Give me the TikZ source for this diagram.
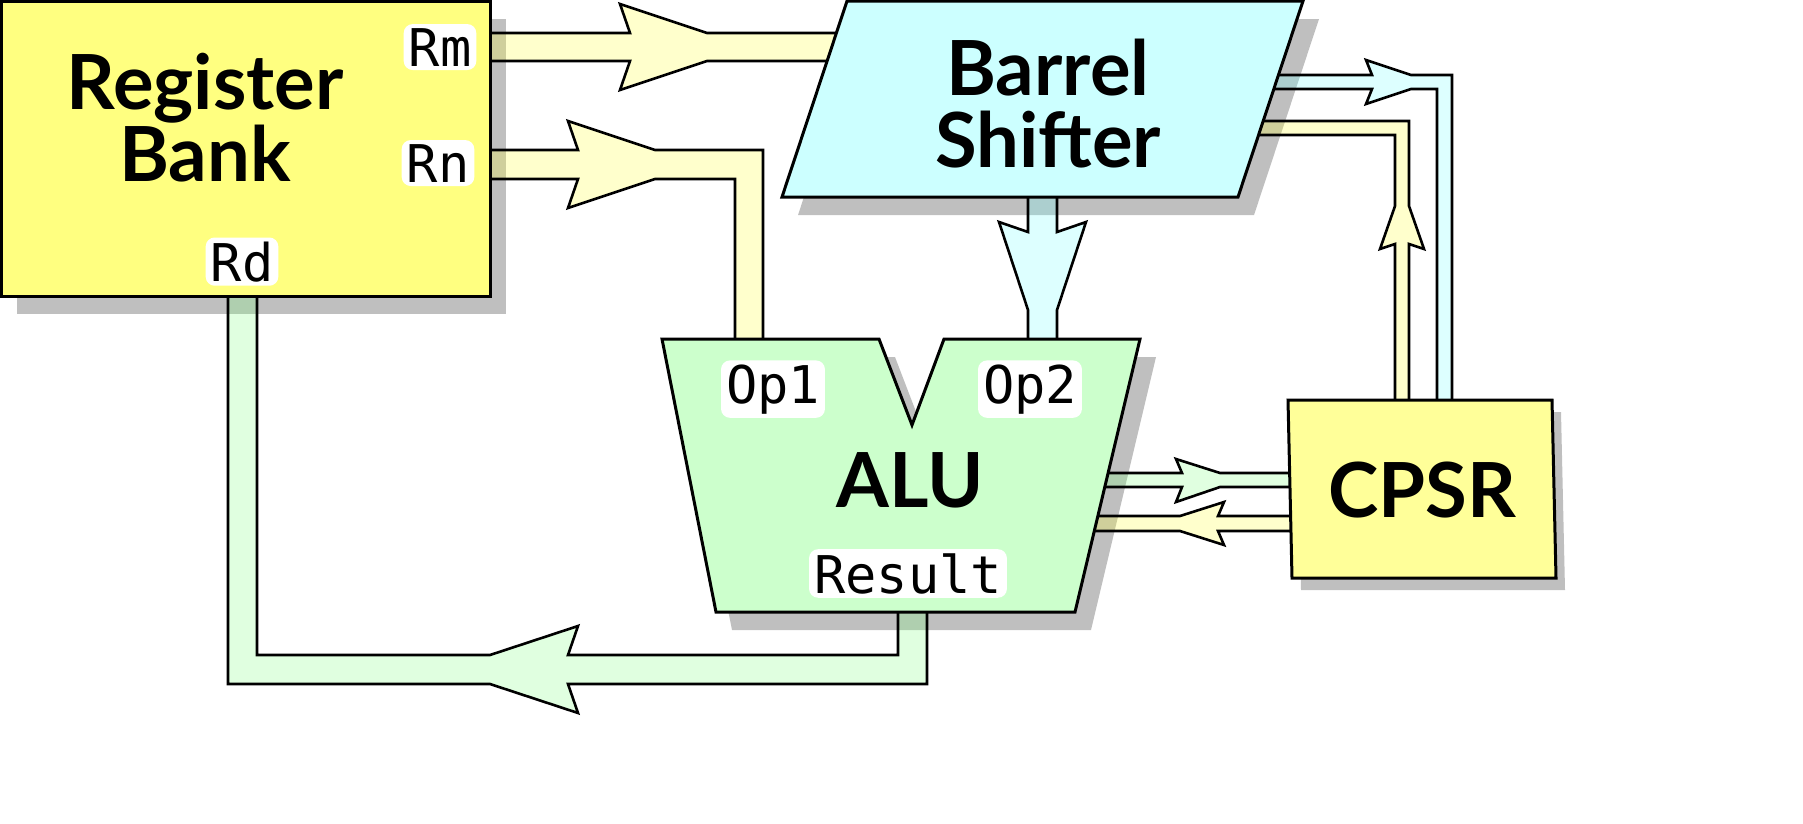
\documentclass[tikz,border=0pt]{standalone}
\usepackage{fontspec}
\setsansfont{Lato}
\setmonofont{DejaVu Sans Mono}
\usetikzlibrary{positioning}

\definecolor{regyellow}{HTML}{FFFF80}
\definecolor{cpsryellow}{HTML}{FFFF99}
\definecolor{shiftcyan}{HTML}{CCFFFF}
\definecolor{alugreen}{HTML}{CCFFCC}
\definecolor{shade}{HTML}{BFBFBF}
\definecolor{busyellow}{HTML}{FFFF33}
\definecolor{buscyan}{HTML}{77FFFF}
\definecolor{busgreen}{HTML}{83FF83}

\begin{document}
\begin{tikzpicture}[x=1pt,y=-1pt]
  \tikzset{shadow/.style = {fill=shade,draw=none}}
  \tikzset{unit/.style = {draw,line width=3pt,line join=miter}}
  \tikzset{bus/.style = {draw,line width=2.6pt,line join=miter,fill opacity=0.25}}
  \tikzset{title/.style = {font=\sffamily\bfseries\fontsize{76}{72}\selectfont,align=center,inner sep=0pt}}
  \tikzset{port/.style = {font=\ttfamily\fontsize{52}{52}\selectfont,fill=white,rounded corners=9pt,
      inner xsep=5pt,inner ysep=4pt,anchor=base}}

  \useasboundingbox (0,0) rectangle (1803,823);

  % shadows
  \fill[shadow] (17,19) rectangle (506,314);
  \fill[shadow] (863,19) -- (1319,19) -- (1254,215) -- (798,215) -- cycle;
  \fill[shadow] (678,357) -- (895,357) -- (928,443) -- (960,357) -- (1156,357) -- (1091,630) -- (732,630) -- cycle;
  \fill[shadow] (1297,412) -- (1561,412) -- (1565,590) -- (1301,590) -- cycle;

  % buses
  \path[bus,fill=busyellow] (480,33) -- (630,33) -- (620,4) -- (707,33) -- (860,33) -- (860,61)
    -- (707,61) -- (620,90) -- (630,61) -- (480,61) -- cycle;
  \path[bus,fill=busyellow] (480,150) -- (578,150) -- (568,121) -- (655,150) -- (763,150) -- (763,350)
    -- (735,350) -- (735,179) -- (655,179) -- (568,208) -- (578,179) -- (480,179) -- cycle;
  \path[bus,fill=buscyan] (1028,190) -- (1057,190) -- (1057,232) -- (1086,222) -- (1057,310) -- (1057,350)
    -- (1028,350) -- (1028,310) -- (999,222) -- (1028,232) -- cycle;
  \path[bus,fill=busgreen] (898,600) -- (927,600) -- (927,684) -- (568,684) -- (578,713) -- (490,684)
    -- (228,684) -- (228,285) -- (257,285) -- (257,655) -- (490,655) -- (578,626) -- (568,655) -- (898,655) -- cycle;
  \path[bus,fill=buscyan] (1240,75) -- (1372,75) -- (1366,60) -- (1411,75) -- (1452,75) -- (1452,410)
    -- (1437,410) -- (1437,89) -- (1411,89) -- (1366,104) -- (1372,89) -- (1240,89) -- cycle;
  \path[bus,fill=busyellow] (1240,121) -- (1409,121) -- (1409,206) -- (1424,249) -- (1409,244) -- (1409,410)
    -- (1395,410) -- (1395,244) -- (1380,249) -- (1395,206) -- (1395,135) -- (1240,135) -- cycle;
  \path[bus,fill=busgreen] (1080,473) -- (1182,473) -- (1176,459) -- (1220,473) -- (1300,473) -- (1300,487)
    -- (1220,487) -- (1176,502) -- (1182,487) -- (1080,487) -- cycle;
  \path[bus,fill=busyellow] (1300,516) -- (1218,516) -- (1224,502) -- (1180,516) -- (1080,516) -- (1080,531)
    -- (1180,531) -- (1224,545) -- (1218,531) -- (1300,531) -- cycle;

  % units
  \draw[unit,fill=regyellow] (1,1) rectangle (490,296);
  \draw[unit,fill=shiftcyan] (847,1) -- (1303,1) -- (1238,197) -- (782,197) -- cycle;
  \draw[unit,fill=alugreen] (662,339) -- (879,339) -- (912,425) -- (944,339) -- (1140,339) -- (1075,612) -- (716,612) -- cycle;
  \draw[unit,fill=cpsryellow] (1288,400) -- (1552,400) -- (1556,578) -- (1292,578) -- cycle;

  \node[title] (regbank) at (205,118) {Register\\Bank};
  \node[title] (shifter) at (1048,104) {Barrel\\Shifter};
  \node[title,anchor=base] (alu) at (910,507) {ALU};
  \node[title,anchor=base] (cpsr) at (1422,517) {CPSR};

  \foreach \name/\pos/\txt in {rm/{440,66}/Rm, rn/{438,182}/Rn, rd/{242,281}/Rd,
      op1/{773,403}/Op1, op2/{1030,403}/Op2, result/{908,593}/Result}
    \node[port] (\name) at (\pos) {\txt};
\end{tikzpicture}
\end{document}
